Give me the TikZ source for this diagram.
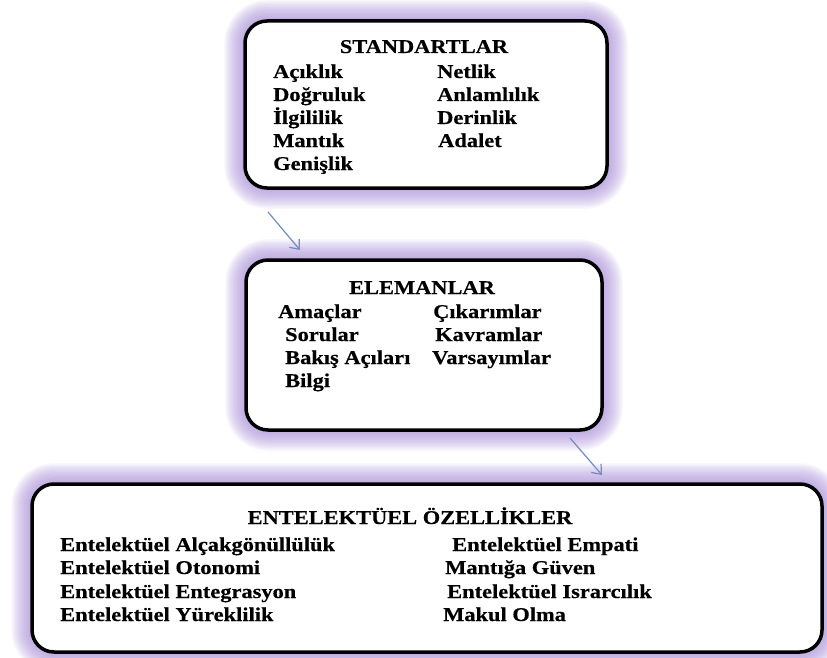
\documentclass[tikz,border=0pt]{standalone}
\usepackage{fontspec}
\setmainfont{Liberation Serif}[FakeStretch=1.15, BoldFeatures={FakeBold=0.4}]
\usetikzlibrary{arrows.meta}

\definecolor{glowpurple}{RGB}{172,144,220}
\definecolor{arrowblue}{RGB}{112,140,195}

\tikzset{
  panel/.style={draw=black, fill=white, line width=3.5pt, rounded corners=22pt,
    inner sep=0pt},
  item/.style={anchor=base west, inner sep=0pt,
    font=\fontsize{19.5}{23}\selectfont\bfseries},
  heading/.style={anchor=base, inner sep=0pt,
    font=\fontsize{19.5}{23}\selectfont\bfseries},
  link/.style={draw=arrowblue, line width=1.2pt,
    -{Straight Barb[length=8pt,width=13pt]}},
}

% soft lavender halo behind a panel: x1, y1, x2, y2
\newcommand\halo[4]{%
  \foreach \g in {1,...,16}{%
    \fill[glowpurple, fill opacity=0.07, rounded corners={22pt+\g*1.3pt}]
      (#1-\g*1.3, #2-\g*1.3) rectangle (#3+\g*1.3, #4+\g*1.3);
  }}

\begin{document}
\begin{tikzpicture}[x=1pt, y=-1pt]
\useasboundingbox (0,0) rectangle (827,658);
\fill[white] (0,0) rectangle (827,658);

% panels
\halo{245}{21}{607}{188}
\node[panel, minimum width=362pt, minimum height=167pt] (std) at (426,104.5) {};
\halo{246}{260}{602}{430}
\node[panel, minimum width=356pt, minimum height=170pt] (elm) at (424,345) {};
\halo{32}{484}{822}{652}
\node[panel, minimum width=790pt, minimum height=168pt] (ozl) at (427,568) {};

% STANDARTLAR
\node[heading] (stdT) at (424,53) {STANDARTLAR};
\node[item] (s1) at (273,78)  {Açıklık};
\node[item] (s2) at (273,101) {Doğruluk};
\node[item] (s3) at (273,124) {İlgililik};
\node[item] (s4) at (273,147) {Mantık};
\node[item] (s5) at (273,170) {Genişlik};
\node[item] (s6) at (437,78)  {Netlik};
\node[item] (s7) at (437,101) {Anlamlılık};
\node[item] (s8) at (437,124) {Derinlik};
\node[item] (s9) at (438,147) {Adalet};

% ELEMANLAR
\node[heading] (elmT) at (422,294) {ELEMANLAR};
\node[item] (e1) at (278,318) {Amaçlar};
\node[item] (e2) at (285,341) {Sorular};
\node[item] (e3) at (285,364) {Bakış Açıları};
\node[item] (e4) at (285,387) {Bilgi};
\node[item] (e5) at (433,318) {Çıkarımlar};
\node[item] (e6) at (435,341) {Kavramlar};
\node[item] (e7) at (432,364) {Varsayımlar};

% ENTELEKTÜEL ÖZELLİKLER
\node[heading] (ozlT) at (410,524) {ENTELEKTÜEL ÖZELLİKLER};
\node[item] (o1) at (60,551) {Entelektüel Alçakgönüllülük};
\node[item] (o2) at (60,574) {Entelektüel Otonomi};
\node[item] (o3) at (60,598) {Entelektüel Entegrasyon};
\node[item] (o4) at (60,621) {Entelektüel Yüreklilik};
\node[item] (o5) at (452,551) {Entelektüel Empati};
\node[item] (o6) at (445,574) {Mantığa Güven};
\node[item] (o7) at (447,598) {Entelektüel Israrcılık};
\node[item] (o8) at (443,621) {Makul Olma};

% arrows between the panels
\coordinate (a1s) at (268,212);
\coordinate (a1e) at (300,250);
\coordinate (a2s) at (570,438);
\coordinate (a2e) at (602,475);
\draw[link] (a1s) -- (a1e);
\draw[link] (a2s) -- (a2e);
\end{tikzpicture}
\end{document}
